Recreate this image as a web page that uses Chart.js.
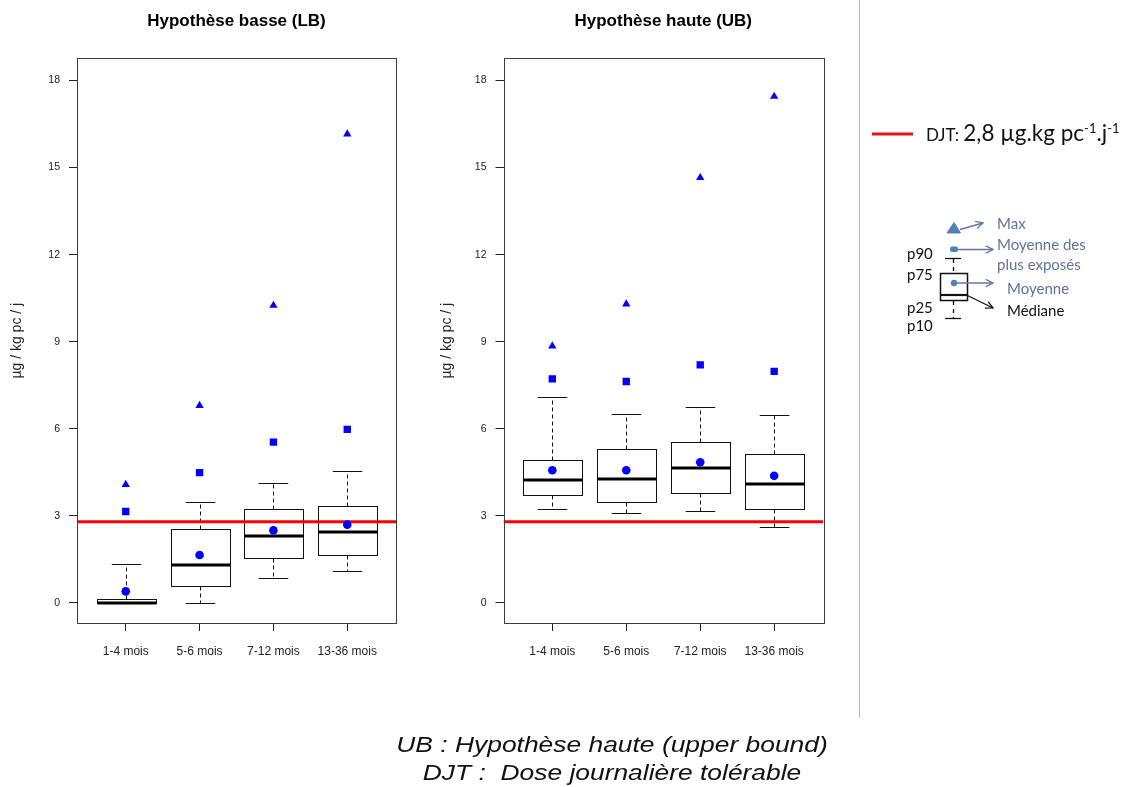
<!DOCTYPE html>
<html lang="fr">
<head>
<meta charset="utf-8">
<title>Exposition par classe d'âge</title>
<script src="https://cdn.jsdelivr.net/npm/chart.js@4.4.1/dist/chart.umd.min.js"></script>
<style>
  html, body { margin: 0; padding: 0; background: #fff; }
  body { width: 1130px; height: 787px; position: relative; overflow: hidden; font-family: "Liberation Sans", Arial, sans-serif; }
  canvas { position: absolute; top: 0; }
  #lbChart { left: 0; }
  #ubChart { left: 420px; }
  #key { position: absolute; left: 0; top: 0; }
  .note { position: absolute; left: 312px; width: 600px; text-align: center; font-style: italic; font-size: 22px; line-height: 26px; color: #111; transform: scaleX(1.2); white-space: pre; }
</style>
</head>
<body>
<canvas id="lbChart" width="420" height="700"></canvas>
<canvas id="ubChart" width="430" height="700"></canvas>

<svg id="key" width="1130" height="787" viewBox="0 0 1130 787">
  <defs>
    <marker id="arrowBlue" viewBox="0 0 10 10" refX="9" refY="5" markerWidth="9" markerHeight="9" orient="auto" markerUnits="userSpaceOnUse">
      <path d="M1,1 L9,5 L1,9" fill="none" stroke="#6477a0" stroke-width="1.4"/>
    </marker>
    <marker id="arrowBlack" viewBox="0 0 10 10" refX="9" refY="5" markerWidth="9" markerHeight="9" orient="auto" markerUnits="userSpaceOnUse">
      <path d="M1,1 L9,5 L1,9" fill="none" stroke="#111" stroke-width="1.4"/>
    </marker>
  </defs>
  <line x1="859.5" y1="0" x2="859.5" y2="717" stroke="#b4b4b4" stroke-width="1"/>

  <!-- DJT legend -->
  <line x1="872" y1="134" x2="913" y2="134" stroke="#e8101a" stroke-width="3"/>
  <text x="926" y="141" font-family="Lato, 'Open Sans', sans-serif" fill="#111"><tspan font-size="17">DJT: </tspan><tspan font-size="22.5">2,8 µg.kg pc</tspan><tspan font-size="13" dy="-8">-1</tspan><tspan font-size="22.5" dy="8">.j</tspan><tspan font-size="13" dy="-8">-1</tspan></text>

  <!-- box plot key -->
  <g font-family="Lato, 'Open Sans', sans-serif" font-size="15" dominant-baseline="central">
    <path d="M954,222.5 L960.5,233 L947,233 Z" fill="#4f81bd" stroke="#41719c" stroke-width="0.8"/>
    <line x1="960" y1="229.5" x2="983" y2="223" stroke="#6477a0" stroke-width="1.4" marker-end="url(#arrowBlue)"/>
    <text x="997" y="223" fill="#5f7399">Max</text>

    <rect x="950" y="246.5" width="8" height="5.5" rx="2" fill="#4f81bd"/>
    <line x1="958" y1="249.5" x2="993" y2="249.5" stroke="#6477a0" stroke-width="1.4" marker-end="url(#arrowBlue)"/>
    <text x="997" y="244" fill="#5f7399">Moyenne des</text>
    <text x="997" y="264" fill="#5f7399">plus exposés</text>

    <line x1="945" y1="258.5" x2="961" y2="258.5" stroke="#111" stroke-width="1.3"/>
    <line x1="953.5" y1="259" x2="953.5" y2="273" stroke="#111" stroke-width="1.3" stroke-dasharray="4,4"/>
    <rect x="940.5" y="273.5" width="27" height="27" fill="#fff" stroke="#111" stroke-width="1.5"/>
    <line x1="940.5" y1="295" x2="967.5" y2="295" stroke="#111" stroke-width="2.2"/>
    <line x1="953.5" y1="301" x2="953.5" y2="318" stroke="#111" stroke-width="1.3" stroke-dasharray="4,4"/>
    <line x1="945" y1="318.5" x2="961" y2="318.5" stroke="#111" stroke-width="1.3"/>

    <circle cx="954" cy="283" r="3.2" fill="#4f81bd"/>
    <line x1="957" y1="283" x2="993" y2="283" stroke="#6477a0" stroke-width="1.4" marker-end="url(#arrowBlue)"/>
    <text x="1007" y="288" fill="#5f7399">Moyenne</text>

    <line x1="967.5" y1="295.5" x2="993" y2="308" stroke="#111" stroke-width="1.3" marker-end="url(#arrowBlack)"/>
    <text x="1007" y="310" fill="#111">Médiane</text>

    <text x="907" y="253" fill="#111">p90</text>
    <text x="907" y="274" fill="#111">p75</text>
    <text x="907" y="307" fill="#111">p25</text>
    <text x="907" y="325" fill="#111">p10</text>
  </g>
</svg>

<div class="note" style="top:732px">UB : Hypothèse haute (upper bound)</div>
<div class="note" style="top:760px">DJT :  Dose journalière tolérable</div>

<script>
const categories = ['1-4 mois', '5-6 mois', '7-12 mois', '13-36 mois'];
const yTicks = [0, 3, 6, 9, 12, 15, 18];
const djt = 2.8; // µg/kg pc/j

// Hypothèse basse (LB)
const lbP10 = [0.0, 0.0, 0.86, 1.09];
const lbP25 = [0.0, 0.59, 1.54, 1.65];
const lbMedian = [0.0, 1.31, 2.31, 2.43];
const lbP75 = [0.14, 2.56, 3.25, 3.34];
const lbP90 = [1.33, 3.47, 4.14, 4.56];
const lbMean = [0.40, 1.65, 2.50, 2.70];
const lbMeanTop = [3.15, 4.49, 5.54, 5.98];
const lbMax = [4.08, 6.80, 10.25, 16.15];

// Hypothèse haute (UB)
const ubP10 = [3.25, 3.11, 3.18, 2.61];
const ubP25 = [3.71, 3.48, 3.80, 3.25];
const ubMedian = [4.24, 4.28, 4.64, 4.10];
const ubP75 = [4.94, 5.30, 5.53, 5.13];
const ubP90 = [7.08, 6.52, 6.75, 6.48];
const ubMean = [4.57, 4.57, 4.85, 4.38];
const ubMeanTop = [7.72, 7.63, 8.20, 7.98];
const ubMax = [8.85, 10.30, 14.65, 17.45];

const X_MIN = 0.34, X_MAX = 4.66;
const Y_MIN = -0.69, Y_MAX = 18.76;
const BOX_HALF = 0.4;

Chart.defaults.font.family = '"Liberation Sans", Arial, sans-serif';
Chart.defaults.color = '#222';

const crisp = v => Math.round(v) + 0.5;

// boxes, whiskers and medians, drawn under the markers
function boxPlotPlugin(stats) {
  return {
    id: 'boxPlot',
    beforeDatasetsDraw(chart) {
      const { ctx, scales: { x, y } } = chart;
      const yp = v => crisp(y.getPixelForValue(v));
      ctx.save();
      ctx.strokeStyle = '#111';
      stats.median.forEach((med, i) => {
        const cx = crisp(x.getPixelForValue(i + 1));
        const half = x.getPixelForValue(i + 1 + BOX_HALF) - x.getPixelForValue(i + 1);
        const cap = half / 2;
        const top = yp(stats.p75[i]), bot = yp(stats.p25[i]);

        ctx.lineWidth = 1;
        ctx.setLineDash([4, 3]);
        ctx.beginPath();
        ctx.moveTo(cx, top); ctx.lineTo(cx, yp(stats.p90[i]));
        ctx.moveTo(cx, bot); ctx.lineTo(cx, yp(stats.p10[i]));
        ctx.stroke();
        ctx.setLineDash([]);

        ctx.beginPath();
        ctx.moveTo(cx - cap, yp(stats.p90[i])); ctx.lineTo(cx + cap, yp(stats.p90[i]));
        ctx.moveTo(cx - cap, yp(stats.p10[i])); ctx.lineTo(cx + cap, yp(stats.p10[i]));
        ctx.stroke();

        const left = crisp(cx - half), width = Math.round(2 * half);
        ctx.fillStyle = '#fff';
        ctx.fillRect(left, top, width, bot - top);
        ctx.strokeRect(left, top, width, bot - top);

        ctx.lineWidth = 3;
        ctx.strokeStyle = '#000';
        ctx.beginPath();
        ctx.moveTo(left, Math.round(y.getPixelForValue(med)));
        ctx.lineTo(left + width, Math.round(y.getPixelForValue(med)));
        ctx.stroke();
        ctx.strokeStyle = '#111';
      });
      ctx.restore();
    }
  };
}

// plot frame
const framePlugin = {
  id: 'frame',
  afterDraw(chart) {
    const { ctx, chartArea: a } = chart;
    ctx.save();
    ctx.strokeStyle = '#3c3c3c';
    ctx.lineWidth = 1;
    ctx.strokeRect(crisp(a.left), crisp(a.top), Math.round(a.right - a.left), Math.round(a.bottom - a.top));
    ctx.restore();
  }
};

function markers(label, values, style, radius) {
  return {
    type: 'scatter',
    label,
    data: values.map((v, i) => ({ x: i + 1, y: v })),
    pointStyle: style,
    pointRadius: radius,
    pointHoverRadius: radius,
    backgroundColor: '#0000ff',
    borderColor: '#0000ff',
    borderWidth: 0,
    order: 1
  };
}

function makeChart(id, title, stats, axisWidth, titlePad, rightPad) {
  return new Chart(document.getElementById(id), {
    type: 'scatter',
    data: {
      datasets: [
        {
          type: 'line',
          label: 'DJT',
          data: [{ x: X_MIN, y: djt }, { x: X_MAX, y: djt }],
          borderColor: '#ff0000',
          borderWidth: 3,
          pointRadius: 0,
          order: 2
        },
        markers('Moyenne', stats.mean, 'circle', 4.3),
        markers('Moyenne des plus exposés', stats.meanTop, 'rect', 5.2),
        markers('Max', stats.max, 'triangle', 4.8)
      ]
    },
    options: {
      responsive: false,
      animation: false,
      events: [],
      layout: { padding: { left: 0, right: rightPad, top: 0, bottom: 0 } },
      plugins: {
        legend: { display: false },
        tooltip: { enabled: false },
        title: {
          display: true,
          text: title,
          fullSize: false,
          color: '#000',
          font: { size: 17, weight: 'bold' },
          padding: { top: 11, bottom: 27 }
        }
      },
      scales: {
        x: {
          type: 'linear',
          min: X_MIN,
          max: X_MAX,
          afterBuildTicks: axis => { axis.ticks = categories.map((_, i) => ({ value: i + 1 })); },
          afterFit: axis => { axis.height = 77; },
          ticks: {
            callback: (v, i) => categories[i],
            font: { size: 12 },
            color: '#222',
            padding: 13,
            maxRotation: 0,
            autoSkip: false
          },
          grid: { display: true, drawOnChartArea: false, drawTicks: true, tickLength: 8, color: '#222' },
          border: { display: false }
        },
        y: {
          type: 'linear',
          min: Y_MIN,
          max: Y_MAX,
          afterBuildTicks: axis => { axis.ticks = yTicks.map(v => ({ value: v })); },
          afterFit: axis => { axis.width = axisWidth; },
          ticks: { font: { size: 10.5 }, color: '#222', padding: 9 },
          grid: { display: true, drawOnChartArea: false, drawTicks: true, tickLength: 8, color: '#222' },
          border: { display: false },
          title: {
            display: true,
            text: 'µg / kg pc / j',
            color: '#222',
            font: { size: 14 },
            padding: { top: titlePad, bottom: 0 }
          }
        }
      }
    },
    plugins: [boxPlotPlugin(stats), framePlugin]
  });
}

makeChart('lbChart', 'Hypothèse basse (LB)', {
  p10: lbP10, p25: lbP25, median: lbMedian, p75: lbP75, p90: lbP90,
  mean: lbMean, meanTop: lbMeanTop, max: lbMax
}, 77, 8.6, 24);

makeChart('ubChart', 'Hypothèse haute (UB)', {
  p10: ubP10, p25: ubP25, median: ubMedian, p75: ubP75, p90: ubP90,
  mean: ubMean, meanTop: ubMeanTop, max: ubMax
}, 83.5, 18.6, 27);
</script>
</body>
</html>
